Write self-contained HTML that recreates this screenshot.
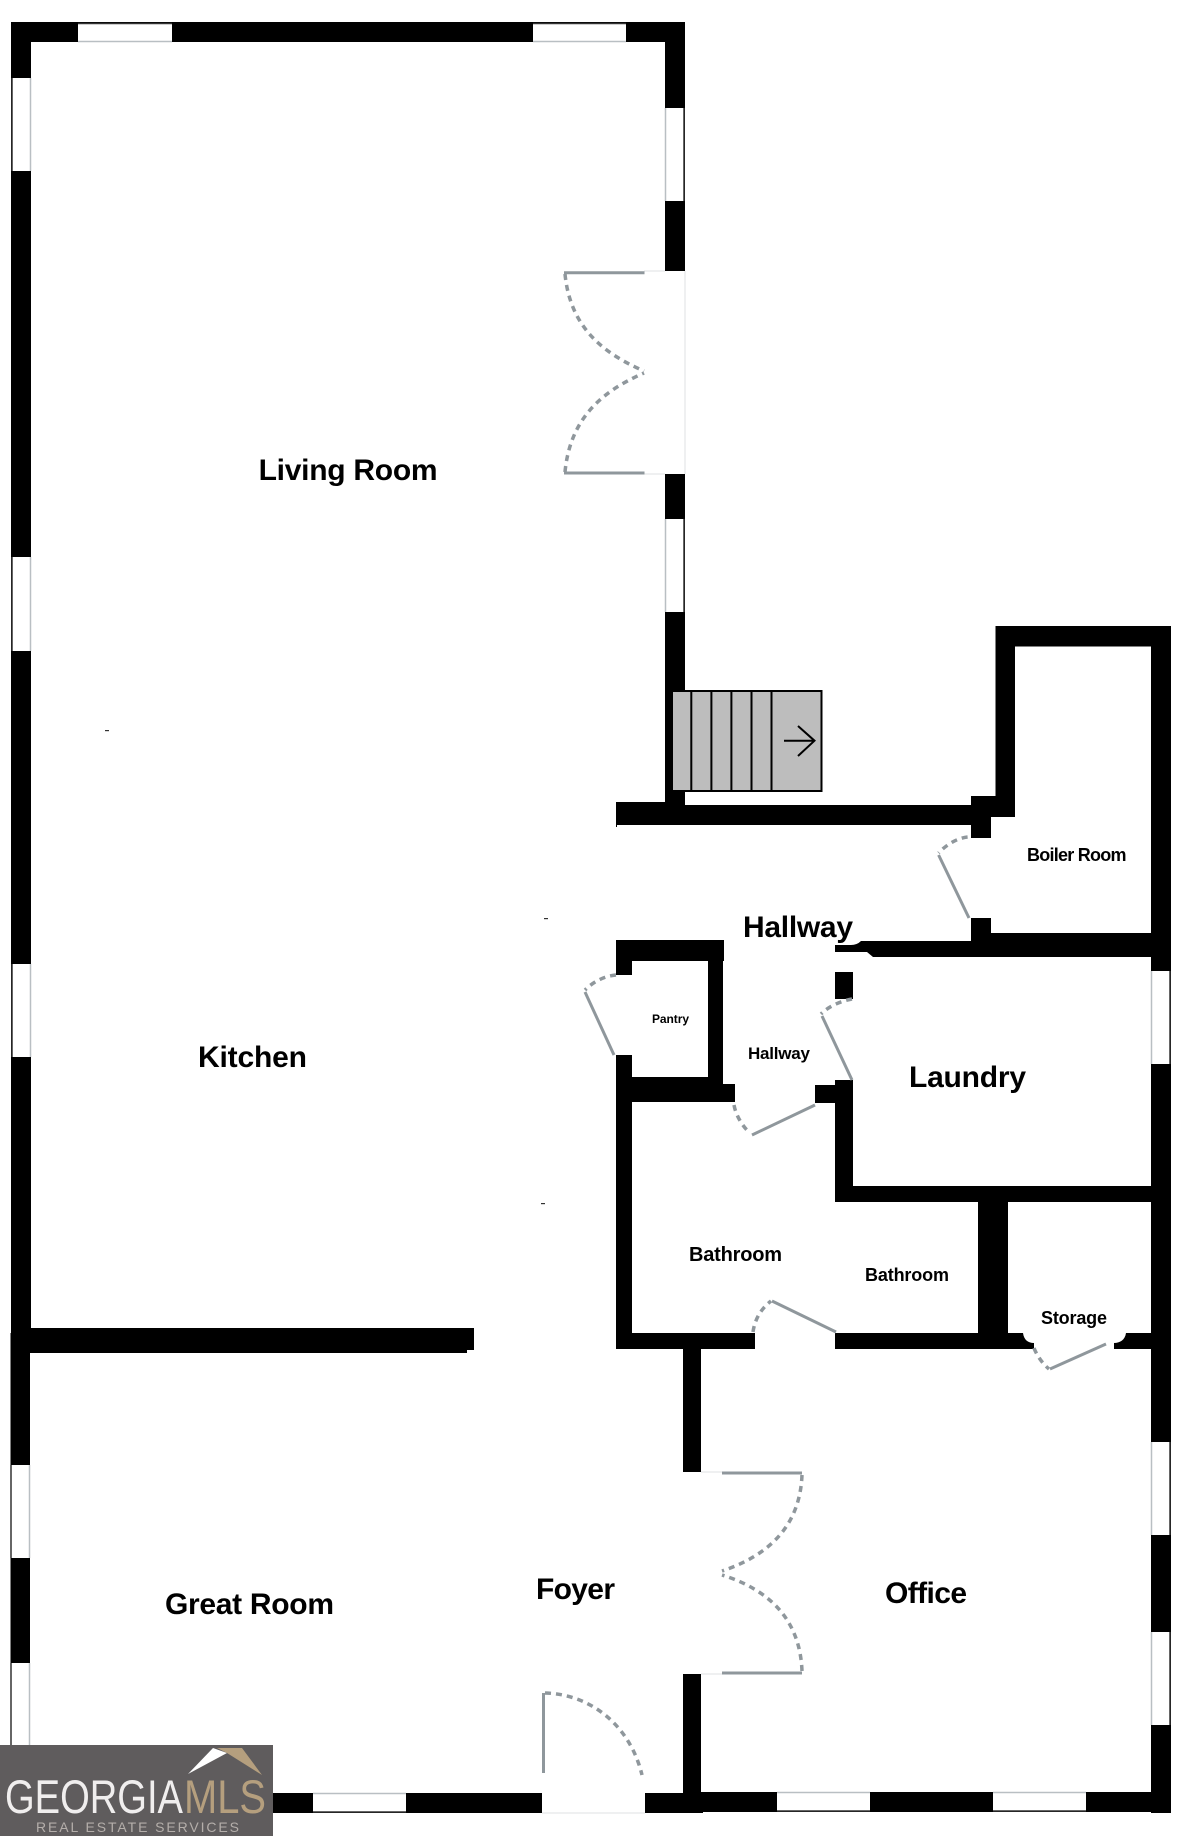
<!DOCTYPE html>
<html lang="en">
<head>
<meta charset="utf-8">
<title>Floor Plan</title>
<style>
html,body{margin:0;padding:0;background:#fff;width:1182px;height:1836px;overflow:hidden}
svg{display:block}
text{font-family:"Liberation Sans",Arial,sans-serif;font-weight:700;fill:#000}
.d{fill:none;stroke:#8f979c;stroke-width:3.5;stroke-dasharray:6 5}
.l{fill:none;stroke:#8f979c;stroke-width:3}
.w{fill:#fff;stroke:none}
.in{stroke:#b9bfc3;stroke-width:1.5;fill:none}
.out{stroke:#333;stroke-width:1.5;fill:none}
</style>
</head>
<body>
<svg width="1182" height="1836" viewBox="0 0 1182 1836" xmlns="http://www.w3.org/2000/svg">
<rect width="1182" height="1836" fill="#fff"/>

<!-- living room outer walls -->
<g fill="#000">
<rect x="11" y="22" width="674" height="20"/>
<rect x="11" y="22" width="20" height="1315"/>
<rect x="10.5" y="1333" width="19.5" height="420"/>
<rect x="665" y="22" width="20" height="249"/>
<rect x="665" y="474" width="20" height="335"/>
<!-- kitchen / great room wall -->
<rect x="30" y="1328" width="444" height="22"/>
<rect x="30" y="1350" width="437" height="3"/>
<!-- hall upper wall -->
<rect x="616" y="802" width="60" height="23"/>
<rect x="616" y="805" width="355" height="20"/>
<rect x="616" y="825" width="1" height="2"/>
<rect x="971" y="796" width="44" height="21"/>
<rect x="971" y="796" width="20" height="42"/>
<!-- boiler room -->
<rect x="995.5" y="626" width="19.5" height="190"/>
<rect x="995.5" y="626" width="175.5" height="20.5"/>
<rect x="1151" y="626" width="20" height="1187"/>
<rect x="971" y="918" width="20" height="39"/>
<rect x="971" y="933" width="200" height="24"/>
<path d="M835 945H851Q857 945 861 941H971V957H873L867 952H835Z"/>
<!-- pantry -->
<rect x="616" y="940" width="108" height="21"/>
<rect x="616" y="940" width="16" height="35"/>
<rect x="708" y="940" width="15" height="145"/>
<rect x="616" y="1055" width="16" height="294"/>
<rect x="616" y="1077" width="107" height="25"/>
<rect x="715" y="1084" width="20" height="18"/>
<!-- laundry -->
<rect x="835" y="972" width="18" height="27"/>
<rect x="815" y="1085" width="38" height="18"/>
<rect x="835" y="1080" width="18" height="122"/>
<rect x="835" y="1186" width="336" height="16"/>
<!-- divider bathroom / storage -->
<rect x="978" y="1202" width="30" height="147"/>
<!-- bath bottom wall -->
<rect x="616" y="1333" width="139" height="16"/>
<rect x="835" y="1333" width="188" height="16"/>
<path d="M1022 1333H1023C1024 1340 1028 1343 1034 1343V1349H1022Z"/>
<path d="M1114 1343C1120 1343 1125 1340 1126 1333H1151V1349H1114Z"/>
<!-- office left wall -->
<rect x="683" y="1349" width="18" height="123"/>
<rect x="683" y="1674" width="18" height="139"/>
<!-- bottom wall -->
<rect x="273" y="1793" width="269" height="20"/>
<rect x="645" y="1793" width="58" height="20"/>
<rect x="683" y="1792" width="488" height="20"/>
</g>

<!-- windows -->
<g>
<rect class="w" x="78" y="23.5" width="94" height="18"/><path class="out" d="M78 23.5H172"/><path class="in" d="M78 41.5H172"/>
<rect class="w" x="533" y="23.5" width="93" height="18"/><path class="out" d="M533 23.5H626"/><path class="in" d="M533 41.5H626"/>
<rect class="w" x="12.5" y="78" width="18" height="93"/><path class="out" d="M12 78V171"/><path class="in" d="M30.5 78V171"/>
<rect class="w" x="12.5" y="557" width="18" height="94"/><path class="out" d="M12 557V651"/><path class="in" d="M30.5 557V651"/>
<rect class="w" x="12.5" y="964" width="18" height="93"/><path class="out" d="M12 964V1057"/><path class="in" d="M30.5 964V1057"/>
<rect class="w" x="11.5" y="1465" width="18" height="93"/><path class="out" d="M11 1465V1558"/><path class="in" d="M29.5 1465V1558"/>
<rect class="w" x="11.5" y="1663" width="18" height="90"/><path class="out" d="M11 1663V1753"/><path class="in" d="M29.5 1663V1753"/>
<rect class="w" x="665.5" y="108" width="18" height="93"/><path class="out" d="M684 108V201"/><path class="in" d="M665.5 108V201"/>
<rect class="w" x="665.5" y="519" width="18" height="93"/><path class="out" d="M684 519V612"/><path class="in" d="M665.5 519V612"/>
<rect class="w" x="1152" y="971" width="18" height="93"/><path class="out" d="M1170 971V1064"/><path class="in" d="M1151.5 971V1064"/>
<rect class="w" x="1152" y="1442" width="18" height="93"/><path class="out" d="M1170 1442V1535"/><path class="in" d="M1151.5 1442V1535"/>
<rect class="w" x="1152" y="1632" width="18" height="93"/><path class="out" d="M1170 1632V1725"/><path class="in" d="M1151.5 1632V1725"/>
<rect class="w" x="313" y="1794" width="93" height="18"/><path class="in" d="M313 1793.5H406"/><path class="out" d="M313 1812H406"/>
<rect class="w" x="777" y="1793" width="93" height="18"/><path class="in" d="M777 1792.5H870"/><path class="out" d="M777 1811H870"/>
<rect class="w" x="993" y="1793" width="93" height="18"/><path class="in" d="M993 1792.5H1086"/><path class="out" d="M993 1811H1086"/>
</g>

<!-- faint door thresholds -->
<g stroke="#dfe1e3" stroke-width="1" fill="none">
<path d="M685 271V474M644 271H665M644 474H665"/>
<path d="M701 1472H722M701 1674H722"/>
<path d="M542 1813H645"/>
</g>

<!-- doors -->
<path class="l" d="M564 272.7H644.5M564 473H644.5"/>
<path class="d" d="M565 274C570 325 600 352 644 371"/>
<path class="d" d="M565 472C570 420 600 392 644 373"/>
<path class="l" d="M722 1473H802M722 1673H802"/>
<path class="d" d="M802 1475C800 1525 770 1555 722 1571"/>
<path class="d" d="M802 1671C800 1620 770 1590 722 1575"/>
<path class="l" d="M543.5 1693V1773"/>
<path class="d" d="M545 1693C590 1694 630 1725 642 1775"/>
<path class="d" d="M967.6 837C957 838 946 845 938.6 853"/>
<path class="l" d="M938.6 855L969 918"/>
<path class="d" d="M616 975C604 976 593 982 585 990"/>
<path class="l" d="M585 992L614 1055"/>
<path class="d" d="M852 999C841 1001 829 1006 821 1014"/>
<path class="l" d="M822 1016L852 1080"/>
<path class="d" d="M734 1105C736 1116 743 1127 750 1133"/>
<path class="l" d="M752 1135L815 1105"/>
<path class="d" d="M753 1332C755 1318 762 1308 771 1301"/>
<path class="l" d="M772 1301L836 1332"/>
<path class="d" d="M1034 1348C1037 1356 1043 1364 1049 1369"/>
<path class="l" d="M1050 1369L1106 1344"/>

<!-- stairs -->
<rect x="672" y="691" width="149.5" height="100" fill="#bdbdbd" stroke="#000" stroke-width="2"/>
<path d="M691.3 691V791M711.4 691V791M731.4 691V791M751.5 691V791M771.5 691V791" stroke="#000" stroke-width="2" fill="none"/>
<path d="M784 740.7H814.5M798 726L814.5 740.7 798 756" stroke="#000" stroke-width="2" fill="none"/>

<!-- tiny marks -->
<g fill="#333">
<rect x="105" y="730" width="4" height="1.2"/>
<rect x="544" y="918" width="4" height="1.2"/>
<rect x="541" y="1203" width="4" height="1.2"/>
</g>

<!-- labels -->
<text x="258.6" y="480" font-size="30" textLength="179">Living Room</text>
<text x="198" y="1067" font-size="30" textLength="109">Kitchen</text>
<text x="165" y="1614" font-size="30" textLength="169">Great Room</text>
<text x="536" y="1599" font-size="30" textLength="79">Foyer</text>
<text x="885" y="1603" font-size="30" textLength="82">Office</text>
<text x="909" y="1087" font-size="30" textLength="117">Laundry</text>
<text x="743" y="937" font-size="30" textLength="110">Hallway</text>
<text x="748" y="1059" font-size="17" textLength="62">Hallway</text>
<text x="652" y="1023" font-size="12" textLength="37">Pantry</text>
<text x="1027" y="861" font-size="18" textLength="99.5">Boiler Room</text>
<text x="689" y="1261" font-size="20" textLength="93">Bathroom</text>
<text x="865" y="1281" font-size="18" textLength="84">Bathroom</text>
<text x="1041" y="1324" font-size="18" textLength="66">Storage</text>

<!-- logo -->
<rect x="0" y="1745" width="273" height="91" fill="#5f5c5d"/>
<polygon points="188,1774 213,1748 227,1753" fill="#fff"/>
<polygon points="217,1748 242,1748 262,1775 227,1753" fill="#b59f7e"/>
<text x="5" y="1813" font-size="47" textLength="178" lengthAdjust="spacingAndGlyphs" style="font-weight:400;fill:#f0eeee">GEORGIA</text>
<text x="184" y="1813" font-size="47" textLength="82" lengthAdjust="spacingAndGlyphs" style="font-weight:400;fill:#b59f7e">MLS</text>
<text x="36" y="1832" font-size="14" textLength="203" style="font-weight:400;fill:#b4aeaa">REAL ESTATE SERVICES</text>
</svg>
</body>
</html>
